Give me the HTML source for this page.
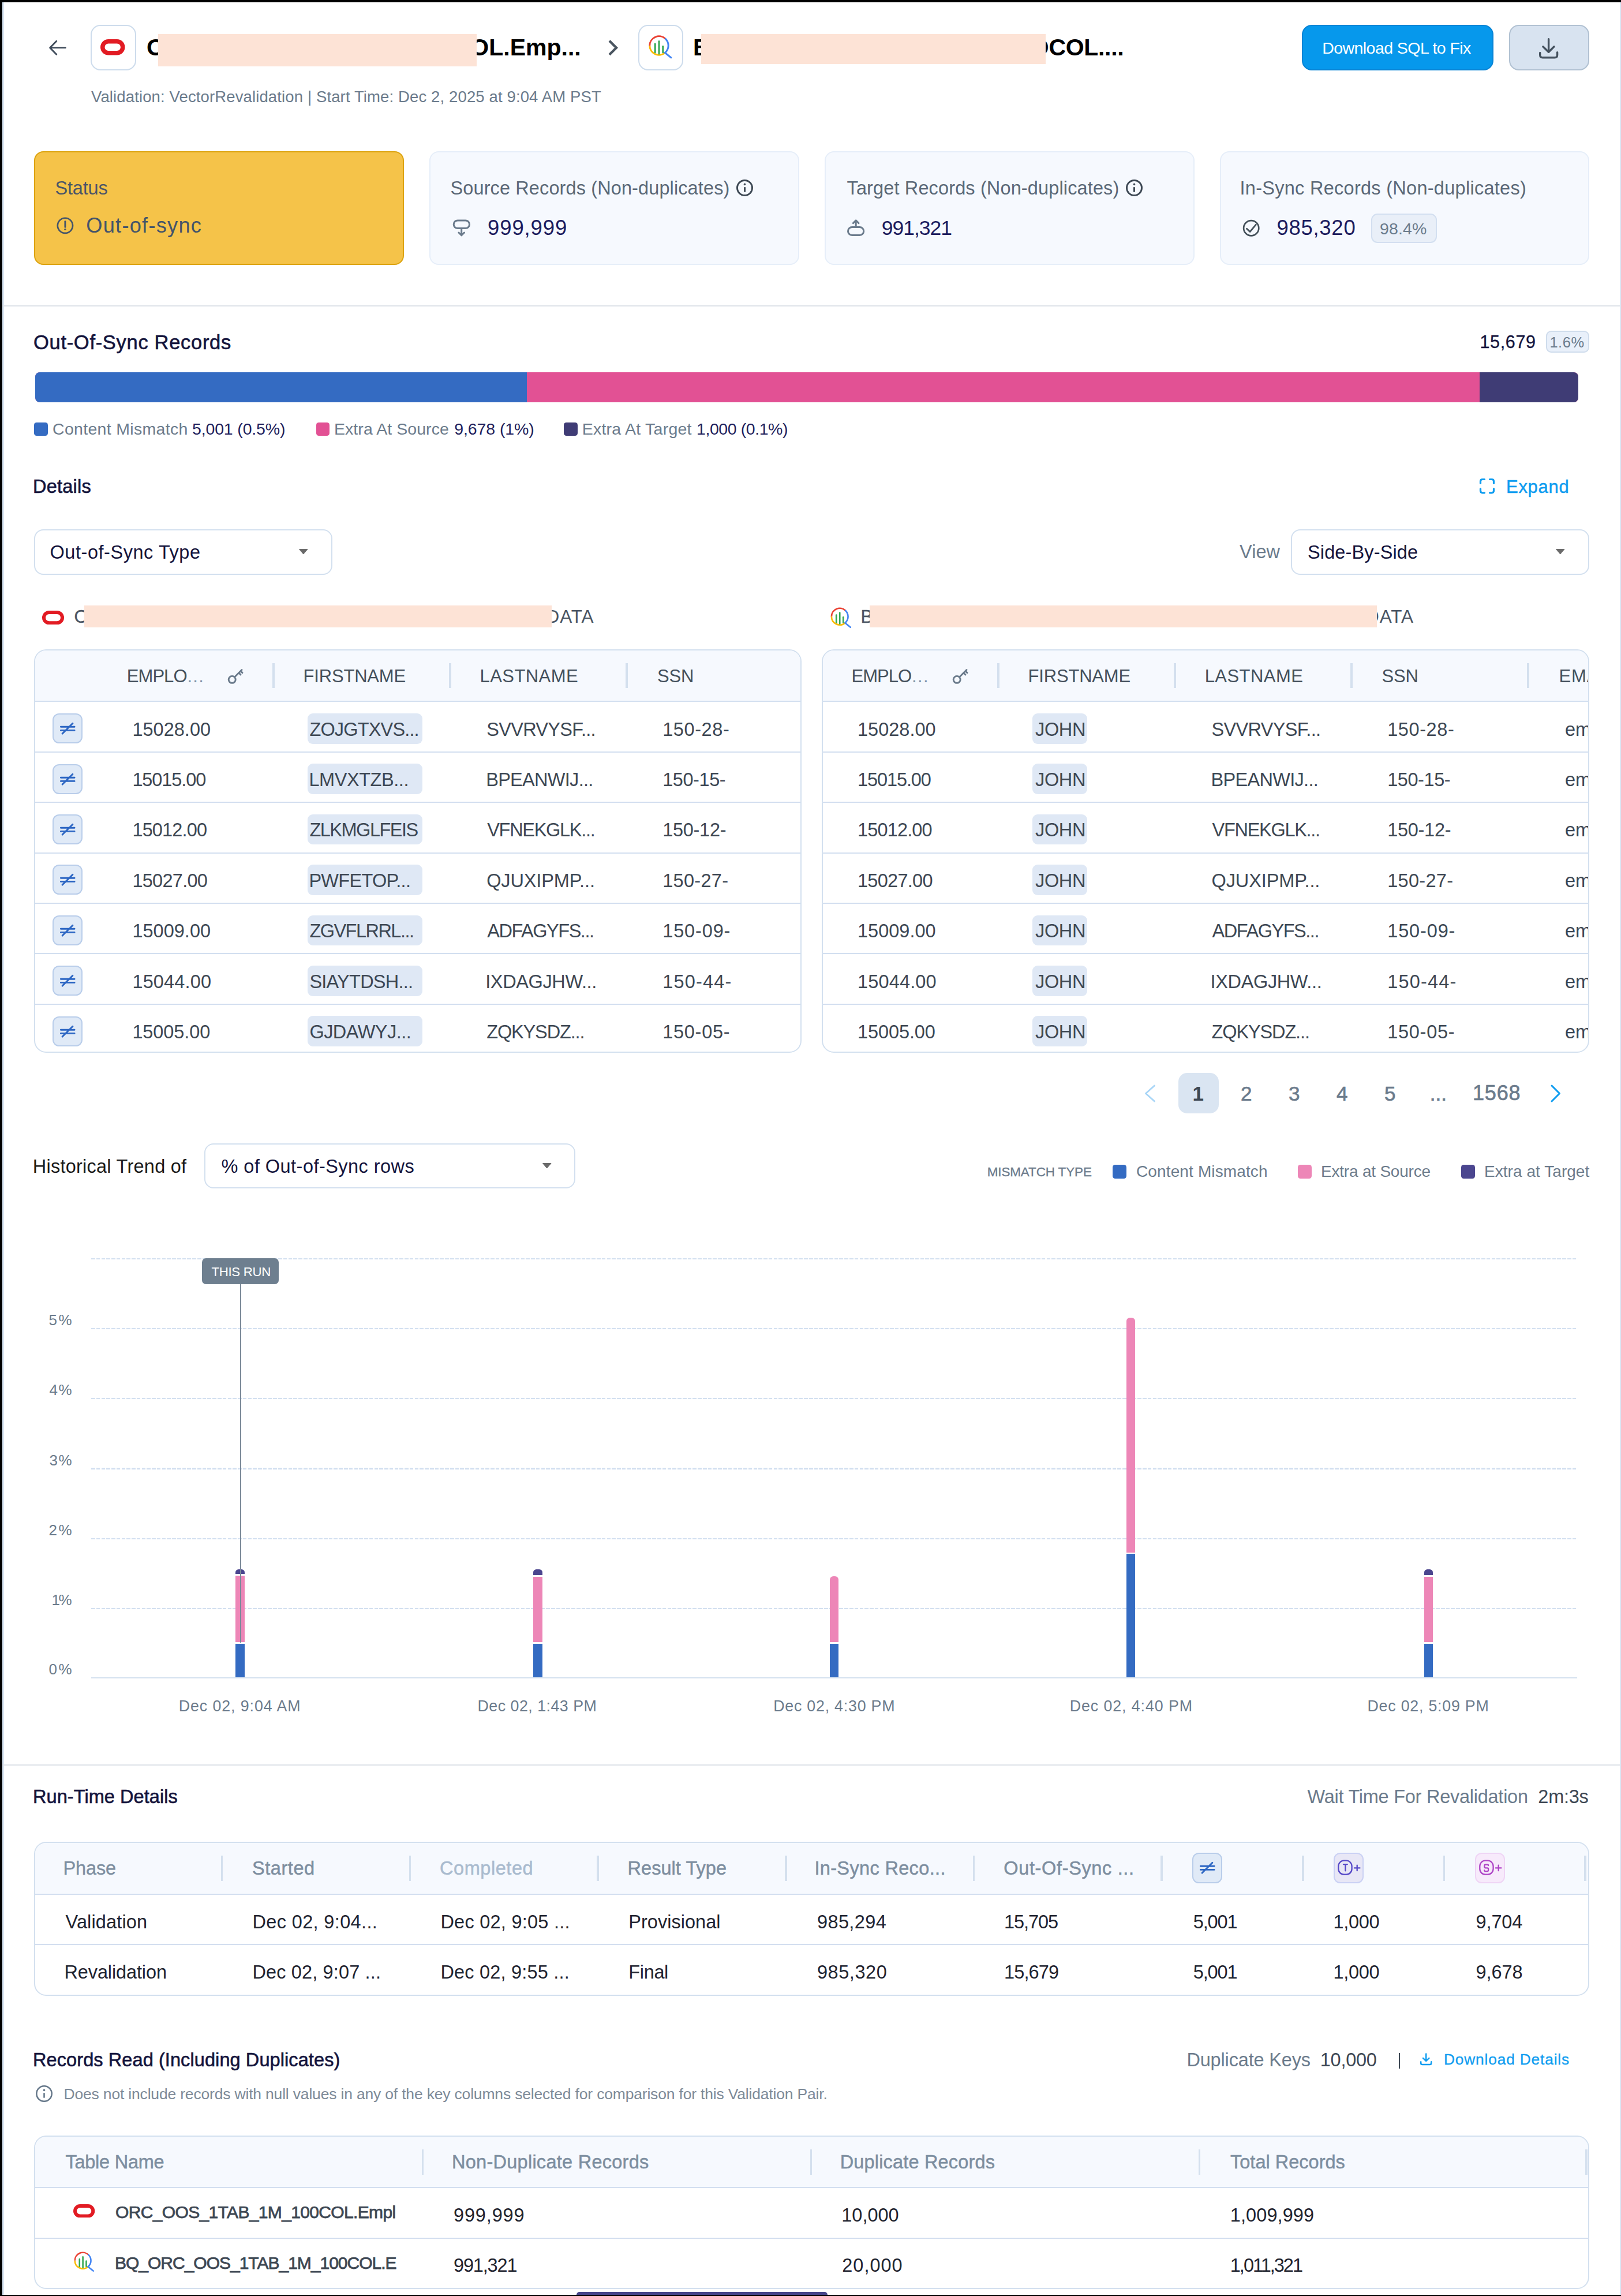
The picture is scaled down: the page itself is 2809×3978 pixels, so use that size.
<!DOCTYPE html>
<html lang="en"><head><meta charset="utf-8"><title>Validation Result</title><style>
*{margin:0;padding:0;box-sizing:border-box}
html,body{width:2809px;height:3978px;overflow:hidden;background:#000}
body{font-family:"Liberation Sans",sans-serif;position:relative}
.b{position:absolute;display:block}
.t{position:absolute;white-space:nowrap;display:block}
</style></head><body>
<div class="b" style="left:4.00px;top:4.00px;width:2803.00px;height:3972.00px;background:#ffffff;"></div>
<div class="b" style="left:4.00px;top:4.00px;width:2.50px;height:3972.00px;background:#dbe7f4;"></div>
<div class="b" style="left:2806.50px;top:4.00px;width:2.50px;height:3972.00px;background:#dbe7f4;"></div>
<svg class="b" style="left:80.00px;top:64.00px;" width="40" height="38" viewBox="0 0 40 38" fill="none"><path d="M33.4 18.7H7M17.8 7.3L6.6 18.7L17.8 30.2" stroke="#3f4b5a" stroke-width="2.8" stroke-linecap="round" stroke-linejoin="round"/></svg>
<div class="b" style="left:157.30px;top:43.20px;width:78.40px;height:78.60px;background:#fff;border:2px solid #cddcec;border-radius:17px;"></div>
<svg class="b" style="left:174.00px;top:68.00px;" width="42.5" height="27.5" viewBox="0 0 42.5 27.5" fill="none"><rect x="3.75" y="3.75" width="35.0" height="20.0" rx="10.0" stroke="#e21b23" stroke-width="7.5"/></svg>
<span class="t" id="t1" style="top:61.79px;font-size:41px;line-height:41px;color:#000;font-weight:700;left:254.00px;">O</span>
<span class="t" id="t2" style="top:61.79px;font-size:41px;line-height:41px;color:#000;font-weight:700;letter-spacing:0.006px;left:815.30px;">OL.Emp...</span>
<div class="b" style="left:274.00px;top:59.00px;width:552.00px;height:56.00px;background:#fde3d6;"></div>
<svg class="b" style="left:1050.00px;top:65.00px;" width="26" height="36" viewBox="0 0 26 36" fill="none"><path d="M6 5.8L18 17.8L6 29.8" stroke="#4a5560" stroke-width="4.3" /></svg>
<div class="b" style="left:1106.00px;top:43.20px;width:78.40px;height:78.60px;background:#fff;border:2px solid #cddcec;border-radius:17px;"></div>
<svg class="b" style="left:1117.80px;top:55.40px;" width="48.0" height="48.0" viewBox="0 0 48.0 48.0" fill="none"><path d="M7.80 24.00 A16.20 16.20 0 0 1 35.25 12.35" stroke="#ea4335" stroke-width="3.0"/><path d="M34.41 36.41 A16.20 16.20 0 0 1 7.80 24.00" stroke="#fbbc04" stroke-width="3.0"/><path d="M35.25 12.35 A16.20 16.20 0 0 1 34.41 36.41 L44.90 44.90" stroke="#4285f4" stroke-width="3.0" stroke-linecap="round"/><path d="M17.20 20.90V35.70" stroke="#34a853" stroke-width="3.0" stroke-linecap="round"/><path d="M24.00 16.60V38.10" stroke="#34a853" stroke-width="3.0" stroke-linecap="round"/><path d="M30.80 25.20V35.70" stroke="#34a853" stroke-width="3.0" stroke-linecap="round"/></svg>
<span class="t" id="t3" style="top:61.79px;font-size:41px;line-height:41px;color:#000;font-weight:700;left:1201.00px;">B</span>
<span class="t" id="t4" style="top:61.79px;font-size:41px;line-height:41px;color:#000;font-weight:700;letter-spacing:-0.301px;left:1785.80px;">OCOL....</span>
<div class="b" style="left:1215.00px;top:59.00px;width:597.00px;height:52.00px;background:#fde3d6;"></div>
<span class="t" id="t5" style="top:153.72px;font-size:27.5px;line-height:27.5px;color:#6b7b8c;letter-spacing:0.127px;left:158.00px;">Validation: VectorRevalidation | Start Time: Dec 2, 2025 at 9:04 AM PST</span>
<div class="b" style="left:2256.00px;top:43.00px;width:332.00px;height:79.00px;background:#0698ec;border:2px solid #0784d6;border-radius:17px;"></div>
<span class="t" id="t6" style="top:69.07px;font-size:28.5px;line-height:28.5px;color:#fff;letter-spacing:-0.558px;left:2291.20px;">Download SQL to Fix</span>
<div class="b" style="left:2614.50px;top:43.40px;width:139.50px;height:78.40px;background:#d8e3f0;border:2px solid #b1c1d2;border-radius:17px;"></div>
<svg class="b" style="left:2660.00px;top:60.00px;" width="48" height="48" viewBox="0 0 48 48" fill="none"><path d="M23.6 7.6V30M13.9 20.7L23.6 30.3L33 20.7M8.7 31.4V35.2Q8.7 39.7 13.2 39.7H34.1Q38.6 39.7 38.6 35.2V30.8" stroke="#44515e" stroke-width="3.4" stroke-linecap="round" stroke-linejoin="round"/></svg>
<div class="b" style="left:59.00px;top:262.00px;width:641.30px;height:197.00px;background:#f5c349;border:2px solid #dca30e;border-radius:16px;"></div>
<div class="b" style="left:744.20px;top:262.00px;width:640.60px;height:197.00px;background:#f6f9fe;border:2px solid #e6eef9;border-radius:16px;"></div>
<div class="b" style="left:1429.00px;top:262.00px;width:640.60px;height:197.00px;background:#f6f9fe;border:2px solid #e6eef9;border-radius:16px;"></div>
<div class="b" style="left:2113.80px;top:262.00px;width:640.60px;height:197.00px;background:#f6f9fe;border:2px solid #e6eef9;border-radius:16px;"></div>
<span class="t" id="t7" style="top:310.49px;font-size:32.5px;line-height:32.5px;color:#4a5568;letter-spacing:-0.177px;left:95.50px;">Status</span>
<svg class="b" style="left:96.00px;top:374.00px;" width="34" height="34" viewBox="0 0 34 34" fill="none"><circle cx="16.9" cy="16.85" r="13.1" stroke="#44546a" stroke-width="2.7"/><path d="M16.9 9.6V19.4" stroke="#44546a" stroke-width="2.9" stroke-linecap="round"/><circle cx="16.9" cy="23.4" r="1.7" fill="#44546a"/></svg>
<span class="t" id="t8" style="top:372.56px;font-size:36.2px;line-height:36.2px;color:#44546a;letter-spacing:1.258px;left:149.30px;">Out-of-sync</span>
<span class="t" id="t9" style="top:310.49px;font-size:32.5px;line-height:32.5px;color:#5a6877;letter-spacing:0.111px;left:780.50px;">Source Records (Non-duplicates)</span>
<span class="t" id="t10" style="top:310.49px;font-size:32.5px;line-height:32.5px;color:#5a6877;letter-spacing:0.133px;left:1467.50px;">Target Records (Non-duplicates)</span>
<span class="t" id="t11" style="top:310.49px;font-size:32.5px;line-height:32.5px;color:#5a6877;letter-spacing:0.278px;left:2148.50px;">In-Sync Records (Non-duplicates)</span>
<svg class="b" style="left:1274.10px;top:309.00px;" width="33.0" height="33.0" viewBox="0 0 33.0 33.0" fill="none"><circle cx="16.5" cy="16.5" r="13.0" stroke="#3d4854" stroke-width="3.0"/><circle cx="16.5" cy="10.4" r="1.8" fill="#3d4854"/><path d="M16.5 15.2V23.6" stroke="#3d4854" stroke-width="3.0" stroke-linecap="butt"/></svg>
<svg class="b" style="left:1949.00px;top:309.00px;" width="33.0" height="33.0" viewBox="0 0 33.0 33.0" fill="none"><circle cx="16.5" cy="16.5" r="13.0" stroke="#3d4854" stroke-width="3.0"/><circle cx="16.5" cy="10.4" r="1.8" fill="#3d4854"/><path d="M16.5 15.2V23.6" stroke="#3d4854" stroke-width="3.0" stroke-linecap="butt"/></svg>
<svg class="b" style="left:780.00px;top:376.00px;" width="40" height="38" viewBox="0 0 40 38" fill="none"><rect x="6.2" y="5.9" width="27.3" height="13.7" rx="6.85" stroke="#6b7b8c" stroke-width="3"/><path d="M19.7 20V31M14.9 27L19.7 31.8L24.5 27" stroke="#6b7b8c" stroke-width="3" stroke-linecap="round" stroke-linejoin="round"/></svg>
<span class="t" id="t12" style="top:377.10px;font-size:36.5px;line-height:36.5px;color:#1c1c5e;letter-spacing:0.894px;left:845.00px;">999,999</span>
<svg class="b" style="left:1463.00px;top:376.00px;" width="40" height="38" viewBox="0 0 40 38" fill="none"><rect x="6.5" y="17.5" width="27.2" height="13.9" rx="6.95" stroke="#6b7b8c" stroke-width="3"/><path d="M20.2 17V6.4M15.4 10.6L20.2 5.8L25 10.6" stroke="#6b7b8c" stroke-width="3" stroke-linecap="round" stroke-linejoin="round"/></svg>
<span class="t" id="t13" style="top:377.95px;font-size:35.5px;line-height:35.5px;color:#1c1c5e;letter-spacing:-1.013px;left:1527.80px;">991,321</span>
<svg class="b" style="left:2150.00px;top:377.00px;" width="36" height="36" viewBox="0 0 36 36" fill="none"><circle cx="18.2" cy="18.2" r="13.1" stroke="#44515a" stroke-width="2.7"/><path d="M10.5 19.2L16 24.6L26.4 12.2" stroke="#44515a" stroke-width="2.8" stroke-linecap="round" stroke-linejoin="round"/></svg>
<span class="t" id="t14" style="top:377.10px;font-size:36.5px;line-height:36.5px;color:#1c1c5e;letter-spacing:0.727px;left:2212.40px;">985,320</span>
<div class="b" style="left:2375.50px;top:370.00px;width:114.00px;height:51.00px;background:#e9eff8;border:2px solid #d3dff0;border-radius:11px;"></div>
<span class="t" id="t15" style="top:382.37px;font-size:28.5px;line-height:28.5px;color:#6b7b8c;letter-spacing:0.133px;left:2391.00px;">98.4%</span>
<div class="b" style="left:4.00px;top:528.50px;width:2803.00px;height:2.00px;background:#dee3e9;"></div>
<span class="t" id="t16" style="top:575.80px;font-size:34.5px;line-height:34.5px;color:#14143c;-webkit-text-stroke:0.6px #14143c;letter-spacing:0.694px;left:58.00px;">Out-Of-Sync Records</span>
<span class="t" id="t17" style="top:577.18px;font-size:30.5px;line-height:30.5px;color:#14143c;-webkit-text-stroke:0.3px #14143c;letter-spacing:0.635px;left:2564.50px;">15,679</span>
<div class="b" style="left:2678.80px;top:572.80px;width:75.00px;height:38.60px;background:#e9f0fa;border:2px solid #cfdcec;border-radius:9px;"></div>
<span class="t" id="t18" style="top:580.71px;font-size:25.5px;line-height:25.5px;color:#6b7b8c;letter-spacing:0.517px;left:2685.40px;">1.6%</span>
<div class="b" style="left:61.00px;top:645.00px;width:2674.00px;height:52.00px;background:#e25194;border-radius:8px;overflow:hidden"><div class="b" style="left:0;top:0;width:852.3px;height:52px;background:#346bc2"></div><div class="b" style="left:2503px;top:0;width:171px;height:52px;background:#3f3c75"></div></div>
<div class="b" style="left:59.00px;top:731.50px;width:23.50px;height:23.50px;background:#346bc2;border-radius:4.5px;"></div>
<span class="t" id="t19" style="top:729.37px;font-size:28.5px;line-height:28.5px;color:#6b7b8c;letter-spacing:0.312px;left:91.00px;">Content Mismatch</span>
<span class="t" id="t20" style="top:729.37px;font-size:28.5px;line-height:28.5px;color:#1f1f5c;letter-spacing:-0.153px;left:333.00px;">5,001 (0.5%)</span>
<div class="b" style="left:547.50px;top:731.50px;width:23.50px;height:23.50px;background:#e25194;border-radius:4.5px;"></div>
<span class="t" id="t21" style="top:729.37px;font-size:28.5px;line-height:28.5px;color:#6b7b8c;letter-spacing:0.055px;left:579.00px;">Extra At Source</span>
<span class="t" id="t22" style="top:729.37px;font-size:28.5px;line-height:28.5px;color:#1f1f5c;letter-spacing:-0.102px;left:787.30px;">9,678 (1%)</span>
<div class="b" style="left:977.00px;top:731.50px;width:23.50px;height:23.50px;background:#3f3c75;border-radius:4.5px;"></div>
<span class="t" id="t23" style="top:729.37px;font-size:28.5px;line-height:28.5px;color:#6b7b8c;letter-spacing:0.245px;left:1008.70px;">Extra At Target</span>
<span class="t" id="t24" style="top:729.37px;font-size:28.5px;line-height:28.5px;color:#1f1f5c;letter-spacing:-0.426px;left:1207.00px;">1,000 (0.1%)</span>
<span class="t" id="t25" style="top:827.49px;font-size:32.5px;line-height:32.5px;color:#14143c;-webkit-text-stroke:0.6px #14143c;letter-spacing:0.235px;left:57.00px;">Details</span>
<svg class="b" style="left:2561.00px;top:826.00px;" width="32" height="34" viewBox="0 0 32 34" fill="none"><path d="M4.5 11.5V8Q4.5 4.5 8 4.5H11.5M20.5 4.5H24Q27.5 4.5 27.5 8V11.5M27.5 20.8V24.3Q27.5 27.8 24 27.8H20.5M11.5 27.8H8Q4.5 27.8 4.5 24.3V20.8" stroke="#0d9cf0" stroke-width="3.2" stroke-linecap="round"/></svg>
<span class="t" id="t26" style="top:828.36px;font-size:31px;line-height:31px;color:#0d9cf0;-webkit-text-stroke:0.45px #0d9cf0;letter-spacing:0.700px;left:2610.00px;">Expand</span>
<div class="b" style="left:59.00px;top:916.90px;width:517.00px;height:78.80px;background:#fff;border:2px solid #d3e0ef;border-radius:16px;"></div>
<span class="t" id="t27" style="top:940.99px;font-size:32.5px;line-height:32.5px;color:#14143c;letter-spacing:0.547px;left:86.50px;">Out-of-Sync Type</span>
<svg class="b" style="left:518.30px;top:950.30px;" width="16" height="12" viewBox="0 0 16 12" fill="none"><path d="M0.5 1.5H15L7.75 10Z" fill="#6a6a6a" stroke="#6a6a6a" stroke-width="1" stroke-linejoin="round"/></svg>
<span class="t" id="t28" style="top:940.49px;font-size:32.5px;line-height:32.5px;color:#6b7b8c;letter-spacing:0.072px;left:2148.00px;">View</span>
<div class="b" style="left:2237.10px;top:916.90px;width:516.90px;height:78.80px;background:#fff;border:2px solid #d3e0ef;border-radius:16px;"></div>
<span class="t" id="t29" style="top:940.99px;font-size:32.5px;line-height:32.5px;color:#14143c;letter-spacing:0.128px;left:2266.00px;">Side-By-Side</span>
<svg class="b" style="left:2696.30px;top:950.30px;" width="16" height="12" viewBox="0 0 16 12" fill="none"><path d="M0.5 1.5H15L7.75 10Z" fill="#6a6a6a" stroke="#6a6a6a" stroke-width="1" stroke-linejoin="round"/></svg>
<svg class="b" style="left:72.50px;top:1058.00px;" width="38" height="24.3" viewBox="0 0 38 24.3" fill="none"><rect x="3.0" y="3.0" width="32" height="18.3" rx="9.15" stroke="#e21b23" stroke-width="6"/></svg>
<span class="t" id="t30" style="top:1053.34px;font-size:31.5px;line-height:31.5px;color:#4a5563;-webkit-text-stroke:0.3px #4a5563;left:128.50px;">O</span>
<span class="t" id="t31" style="top:1053.34px;font-size:31.5px;line-height:31.5px;color:#4a5563;letter-spacing:0.892px;left:946.50px;">DATA</span>
<div class="b" style="left:146.00px;top:1049.00px;width:810.00px;height:38.00px;background:#fde3d6;"></div>
<svg class="b" style="left:1433.56px;top:1046.76px;" width="42.48" height="42.48" viewBox="0 0 42.48 42.48" fill="none"><path d="M6.90 21.24 A14.34 14.34 0 0 1 31.20 10.93" stroke="#ea4335" stroke-width="2.6550000000000002"/><path d="M30.46 32.22 A14.34 14.34 0 0 1 6.90 21.24" stroke="#fbbc04" stroke-width="2.6550000000000002"/><path d="M31.20 10.93 A14.34 14.34 0 0 1 30.46 32.22 L39.74 39.74" stroke="#4285f4" stroke-width="2.6550000000000002" stroke-linecap="round"/><path d="M15.22 18.50V31.59" stroke="#34a853" stroke-width="2.6550000000000002" stroke-linecap="round"/><path d="M21.24 14.69V33.72" stroke="#34a853" stroke-width="2.6550000000000002" stroke-linecap="round"/><path d="M27.26 22.30V31.59" stroke="#34a853" stroke-width="2.6550000000000002" stroke-linecap="round"/></svg>
<span class="t" id="t32" style="top:1053.34px;font-size:31.5px;line-height:31.5px;color:#4a5563;-webkit-text-stroke:0.3px #4a5563;left:1491.60px;">B</span>
<span class="t" id="t33" style="top:1053.34px;font-size:31.5px;line-height:31.5px;color:#4a5563;letter-spacing:0.892px;left:2367.00px;">DATA</span>
<div class="b" style="left:1506.50px;top:1049.00px;width:879.30px;height:38.00px;background:#fde3d6;"></div>
<div class="b" style="left:59.00px;top:1124.90px;width:1330.00px;height:699.10px;background:#fff;border:2px solid #d3e0ef;border-radius:21px;overflow:hidden"><div class="b" style="left:0;top:0;width:1330px;height:89.4px;background:#f6f9fe"></div></div>
<div class="b" style="left:61.00px;top:1214.30px;width:1326.00px;height:2.00px;background:#d3dff0;"></div>
<div class="b" style="left:61.00px;top:1301.70px;width:1326.00px;height:2.00px;background:#d3dff0;"></div>
<div class="b" style="left:61.00px;top:1389.10px;width:1326.00px;height:2.00px;background:#d3dff0;"></div>
<div class="b" style="left:61.00px;top:1476.50px;width:1326.00px;height:2.00px;background:#d3dff0;"></div>
<div class="b" style="left:61.00px;top:1563.90px;width:1326.00px;height:2.00px;background:#d3dff0;"></div>
<div class="b" style="left:61.00px;top:1651.30px;width:1326.00px;height:2.00px;background:#d3dff0;"></div>
<div class="b" style="left:61.00px;top:1738.70px;width:1326.00px;height:2.00px;background:#d3dff0;"></div>
<span class="t" id="t34" style="top:1156.36px;font-size:31px;line-height:31px;color:#44505c;letter-spacing:-0.954px;left:219.80px;">EMPLO</span>
<span class="t" id="t35" style="top:1156.36px;font-size:31px;line-height:31px;color:#8094a8;letter-spacing:1.287px;left:324.40px;">...</span>
<svg class="b" style="left:393.00px;top:1158.00px;" width="32" height="30" viewBox="0 0 32 30" fill="none"><circle cx="9.2" cy="19.4" r="6" stroke="#6b7b8c" stroke-width="2.9"/><path d="M13.6 15L26 2.6M20.8 7.8L24 11M24 4.6L27 7.6" stroke="#6b7b8c" stroke-width="2.9" stroke-linecap="round"/></svg>
<span class="t" id="t36" style="top:1156.36px;font-size:31px;line-height:31px;color:#44505c;letter-spacing:-0.180px;left:525.50px;">FIRSTNAME</span>
<span class="t" id="t37" style="top:1156.36px;font-size:31px;line-height:31px;color:#44505c;letter-spacing:0.440px;left:831.50px;">LASTNAME</span>
<span class="t" id="t38" style="top:1156.36px;font-size:31px;line-height:31px;color:#44505c;letter-spacing:-0.177px;left:1139.00px;">SSN</span>
<div class="b" style="left:472.10px;top:1148.60px;width:3.80px;height:43.50px;background:#d4e0ee;"></div>
<div class="b" style="left:778.10px;top:1148.60px;width:3.80px;height:43.50px;background:#d4e0ee;"></div>
<div class="b" style="left:1084.10px;top:1148.60px;width:3.80px;height:43.50px;background:#d4e0ee;"></div>
<div class="b" style="left:90.50px;top:1236.10px;width:52.20px;height:52.20px;background:#e0eaf7;border:2px solid #b9cdea;border-radius:11.5px;"></div>
<svg class="b" style="left:90.50px;top:1236.10px;" width="52.2" height="52.2" viewBox="0 0 52.2 52.2" fill="none"><path d="M14.4 23.2H38.1M14.4 29.4H38.1M17.1 35.1L34.9 17.3" stroke="#2c66c3" stroke-width="2.9" stroke-linecap="round"/></svg>
<span class="t" id="t39" style="top:1247.59px;font-size:32.5px;line-height:32.5px;color:#3d4753;letter-spacing:0.017px;left:229.40px;">15028.00</span>
<div class="b" style="left:532.50px;top:1236.00px;width:199.00px;height:52.50px;background:#dfe8f5;border-radius:9px;"></div>
<span class="t" id="t40" style="top:1247.59px;font-size:32.5px;line-height:32.5px;color:#3d4753;letter-spacing:-0.840px;left:536.40px;">ZOJGTXVS...</span>
<span class="t" id="t41" style="top:1247.59px;font-size:32.5px;line-height:32.5px;color:#3d4753;letter-spacing:-0.686px;left:843.20px;">SVVRVYSF...</span>
<span class="t" id="t42" style="top:1247.59px;font-size:32.5px;line-height:32.5px;color:#3d4753;letter-spacing:0.584px;left:1148.20px;">150-28-</span>
<div class="b" style="left:90.50px;top:1323.50px;width:52.20px;height:52.20px;background:#e0eaf7;border:2px solid #b9cdea;border-radius:11.5px;"></div>
<svg class="b" style="left:90.50px;top:1323.50px;" width="52.2" height="52.2" viewBox="0 0 52.2 52.2" fill="none"><path d="M14.4 23.2H38.1M14.4 29.4H38.1M17.1 35.1L34.9 17.3" stroke="#2c66c3" stroke-width="2.9" stroke-linecap="round"/></svg>
<span class="t" id="t43" style="top:1334.99px;font-size:32.5px;line-height:32.5px;color:#3d4753;letter-spacing:-1.097px;left:229.40px;">15015.00</span>
<div class="b" style="left:532.50px;top:1323.40px;width:199.00px;height:52.50px;background:#dfe8f5;border-radius:9px;"></div>
<span class="t" id="t44" style="top:1334.99px;font-size:32.5px;line-height:32.5px;color:#3d4753;letter-spacing:-0.438px;left:535.40px;">LMVXTZB...</span>
<span class="t" id="t45" style="top:1334.99px;font-size:32.5px;line-height:32.5px;color:#3d4753;letter-spacing:-0.709px;left:842.20px;">BPEANWIJ...</span>
<span class="t" id="t46" style="top:1334.99px;font-size:32.5px;line-height:32.5px;color:#3d4753;letter-spacing:-0.433px;left:1148.20px;">150-15-</span>
<div class="b" style="left:90.50px;top:1410.90px;width:52.20px;height:52.20px;background:#e0eaf7;border:2px solid #b9cdea;border-radius:11.5px;"></div>
<svg class="b" style="left:90.50px;top:1410.90px;" width="52.2" height="52.2" viewBox="0 0 52.2 52.2" fill="none"><path d="M14.4 23.2H38.1M14.4 29.4H38.1M17.1 35.1L34.9 17.3" stroke="#2c66c3" stroke-width="2.9" stroke-linecap="round"/></svg>
<span class="t" id="t47" style="top:1422.39px;font-size:32.5px;line-height:32.5px;color:#3d4753;letter-spacing:-0.840px;left:229.40px;">15012.00</span>
<div class="b" style="left:532.50px;top:1410.80px;width:199.00px;height:52.50px;background:#dfe8f5;border-radius:9px;"></div>
<span class="t" id="t48" style="top:1422.39px;font-size:32.5px;line-height:32.5px;color:#3d4753;letter-spacing:-1.488px;left:536.40px;">ZLKMGLFEIS</span>
<span class="t" id="t49" style="top:1422.39px;font-size:32.5px;line-height:32.5px;color:#3d4753;letter-spacing:-1.295px;left:844.20px;">VFNEKGLK...</span>
<span class="t" id="t50" style="top:1422.39px;font-size:32.5px;line-height:32.5px;color:#3d4753;letter-spacing:-0.283px;left:1148.20px;">150-12-</span>
<div class="b" style="left:90.50px;top:1498.30px;width:52.20px;height:52.20px;background:#e0eaf7;border:2px solid #b9cdea;border-radius:11.5px;"></div>
<svg class="b" style="left:90.50px;top:1498.30px;" width="52.2" height="52.2" viewBox="0 0 52.2 52.2" fill="none"><path d="M14.4 23.2H38.1M14.4 29.4H38.1M17.1 35.1L34.9 17.3" stroke="#2c66c3" stroke-width="2.9" stroke-linecap="round"/></svg>
<span class="t" id="t51" style="top:1509.79px;font-size:32.5px;line-height:32.5px;color:#3d4753;letter-spacing:-0.726px;left:229.40px;">15027.00</span>
<div class="b" style="left:532.50px;top:1498.20px;width:199.00px;height:52.50px;background:#dfe8f5;border-radius:9px;"></div>
<span class="t" id="t52" style="top:1509.79px;font-size:32.5px;line-height:32.5px;color:#3d4753;letter-spacing:-0.719px;left:535.40px;">PWFETOP...</span>
<span class="t" id="t53" style="top:1509.79px;font-size:32.5px;line-height:32.5px;color:#3d4753;letter-spacing:-0.130px;left:843.20px;">QJUXIPMP...</span>
<span class="t" id="t54" style="top:1509.79px;font-size:32.5px;line-height:32.5px;color:#3d4753;letter-spacing:0.300px;left:1148.20px;">150-27-</span>
<div class="b" style="left:90.50px;top:1585.70px;width:52.20px;height:52.20px;background:#e0eaf7;border:2px solid #b9cdea;border-radius:11.5px;"></div>
<svg class="b" style="left:90.50px;top:1585.70px;" width="52.2" height="52.2" viewBox="0 0 52.2 52.2" fill="none"><path d="M14.4 23.2H38.1M14.4 29.4H38.1M17.1 35.1L34.9 17.3" stroke="#2c66c3" stroke-width="2.9" stroke-linecap="round"/></svg>
<span class="t" id="t55" style="top:1597.19px;font-size:32.5px;line-height:32.5px;color:#3d4753;letter-spacing:0.017px;left:229.40px;">15009.00</span>
<div class="b" style="left:532.50px;top:1585.60px;width:199.00px;height:52.50px;background:#dfe8f5;border-radius:9px;"></div>
<span class="t" id="t56" style="top:1597.19px;font-size:32.5px;line-height:32.5px;color:#3d4753;letter-spacing:-1.531px;left:536.40px;">ZGVFLRRL...</span>
<span class="t" id="t57" style="top:1597.19px;font-size:32.5px;line-height:32.5px;color:#3d4753;letter-spacing:-1.463px;left:844.20px;">ADFAGYFS...</span>
<span class="t" id="t58" style="top:1597.19px;font-size:32.5px;line-height:32.5px;color:#3d4753;letter-spacing:0.867px;left:1148.20px;">150-09-</span>
<div class="b" style="left:90.50px;top:1673.10px;width:52.20px;height:52.20px;background:#e0eaf7;border:2px solid #b9cdea;border-radius:11.5px;"></div>
<svg class="b" style="left:90.50px;top:1673.10px;" width="52.2" height="52.2" viewBox="0 0 52.2 52.2" fill="none"><path d="M14.4 23.2H38.1M14.4 29.4H38.1M17.1 35.1L34.9 17.3" stroke="#2c66c3" stroke-width="2.9" stroke-linecap="round"/></svg>
<span class="t" id="t59" style="top:1684.59px;font-size:32.5px;line-height:32.5px;color:#3d4753;letter-spacing:0.160px;left:229.40px;">15044.00</span>
<div class="b" style="left:532.50px;top:1673.00px;width:199.00px;height:52.50px;background:#dfe8f5;border-radius:9px;"></div>
<span class="t" id="t60" style="top:1684.59px;font-size:32.5px;line-height:32.5px;color:#3d4753;letter-spacing:-0.748px;left:536.40px;">SIAYTDSH...</span>
<span class="t" id="t61" style="top:1684.59px;font-size:32.5px;line-height:32.5px;color:#3d4753;letter-spacing:-0.370px;left:841.20px;">IXDAGJHW...</span>
<span class="t" id="t62" style="top:1684.59px;font-size:32.5px;line-height:32.5px;color:#3d4753;letter-spacing:1.167px;left:1148.20px;">150-44-</span>
<div class="b" style="left:90.50px;top:1760.50px;width:52.20px;height:52.20px;background:#e0eaf7;border:2px solid #b9cdea;border-radius:11.5px;"></div>
<svg class="b" style="left:90.50px;top:1760.50px;" width="52.2" height="52.2" viewBox="0 0 52.2 52.2" fill="none"><path d="M14.4 23.2H38.1M14.4 29.4H38.1M17.1 35.1L34.9 17.3" stroke="#2c66c3" stroke-width="2.9" stroke-linecap="round"/></svg>
<span class="t" id="t63" style="top:1771.99px;font-size:32.5px;line-height:32.5px;color:#3d4753;letter-spacing:-0.097px;left:229.40px;">15005.00</span>
<div class="b" style="left:532.50px;top:1760.40px;width:199.00px;height:52.50px;background:#dfe8f5;border-radius:9px;"></div>
<span class="t" id="t64" style="top:1771.99px;font-size:32.5px;line-height:32.5px;color:#3d4753;letter-spacing:-0.537px;left:536.40px;">GJDAWYJ...</span>
<span class="t" id="t65" style="top:1771.99px;font-size:32.5px;line-height:32.5px;color:#3d4753;letter-spacing:-1.138px;left:843.20px;">ZQKYSDZ...</span>
<span class="t" id="t66" style="top:1771.99px;font-size:32.5px;line-height:32.5px;color:#3d4753;letter-spacing:0.734px;left:1148.20px;">150-05-</span>
<div class="b" style="left:1424.00px;top:1124.90px;width:1330.00px;height:699.10px;background:#fff;border:2px solid #d3e0ef;border-radius:21px;overflow:hidden"><div class="b" style="left:0;top:0;width:1330px;height:89.4px;background:#f6f9fe"></div></div>
<div class="b" style="left:1426.00px;top:1214.30px;width:1326.00px;height:2.00px;background:#d3dff0;"></div>
<div class="b" style="left:1426.00px;top:1301.70px;width:1326.00px;height:2.00px;background:#d3dff0;"></div>
<div class="b" style="left:1426.00px;top:1389.10px;width:1326.00px;height:2.00px;background:#d3dff0;"></div>
<div class="b" style="left:1426.00px;top:1476.50px;width:1326.00px;height:2.00px;background:#d3dff0;"></div>
<div class="b" style="left:1426.00px;top:1563.90px;width:1326.00px;height:2.00px;background:#d3dff0;"></div>
<div class="b" style="left:1426.00px;top:1651.30px;width:1326.00px;height:2.00px;background:#d3dff0;"></div>
<div class="b" style="left:1426.00px;top:1738.70px;width:1326.00px;height:2.00px;background:#d3dff0;"></div>
<span class="t" id="t67" style="top:1156.36px;font-size:31px;line-height:31px;color:#44505c;letter-spacing:-0.954px;left:1475.50px;">EMPLO</span>
<span class="t" id="t68" style="top:1156.36px;font-size:31px;line-height:31px;color:#8094a8;letter-spacing:1.287px;left:1580.10px;">...</span>
<svg class="b" style="left:1649.00px;top:1158.00px;" width="32" height="30" viewBox="0 0 32 30" fill="none"><circle cx="9.2" cy="19.4" r="6" stroke="#6b7b8c" stroke-width="2.9"/><path d="M13.6 15L26 2.6M20.8 7.8L24 11M24 4.6L27 7.6" stroke="#6b7b8c" stroke-width="2.9" stroke-linecap="round"/></svg>
<span class="t" id="t69" style="top:1156.36px;font-size:31px;line-height:31px;color:#44505c;letter-spacing:-0.180px;left:1781.50px;">FIRSTNAME</span>
<span class="t" id="t70" style="top:1156.36px;font-size:31px;line-height:31px;color:#44505c;letter-spacing:0.440px;left:2087.70px;">LASTNAME</span>
<span class="t" id="t71" style="top:1156.36px;font-size:31px;line-height:31px;color:#44505c;letter-spacing:-0.177px;left:2394.40px;">SSN</span>
<div class="b" style="left:1728.10px;top:1148.60px;width:3.80px;height:43.50px;background:#d4e0ee;"></div>
<div class="b" style="left:2034.10px;top:1148.60px;width:3.80px;height:43.50px;background:#d4e0ee;"></div>
<div class="b" style="left:2340.10px;top:1148.60px;width:3.80px;height:43.50px;background:#d4e0ee;"></div>
<div class="b" style="left:2646.10px;top:1148.60px;width:3.80px;height:43.50px;background:#d4e0ee;"></div>
<div class="b" style="left:2690.00px;top:1126.00px;width:62.00px;height:696.00px;overflow:hidden"><span class="t" style="left:11.6px;top:30.36px;font-size:31px;line-height:31px;color:#44505c;letter-spacing:0.8px">EMAIL</span><span class="t" style="left:22px;top:121.59px;font-size:32.5px;line-height:32.5px;color:#3d4753">email</span><span class="t" style="left:22px;top:208.99px;font-size:32.5px;line-height:32.5px;color:#3d4753">email</span><span class="t" style="left:22px;top:296.39px;font-size:32.5px;line-height:32.5px;color:#3d4753">email</span><span class="t" style="left:22px;top:383.79px;font-size:32.5px;line-height:32.5px;color:#3d4753">email</span><span class="t" style="left:22px;top:471.19px;font-size:32.5px;line-height:32.5px;color:#3d4753">email</span><span class="t" style="left:22px;top:558.59px;font-size:32.5px;line-height:32.5px;color:#3d4753">email</span><span class="t" style="left:22px;top:645.99px;font-size:32.5px;line-height:32.5px;color:#3d4753">email</span></div>
<span class="t" id="t72" style="top:1247.59px;font-size:32.5px;line-height:32.5px;color:#3d4753;letter-spacing:0.017px;left:1486.00px;">15028.00</span>
<div class="b" style="left:1788.50px;top:1236.00px;width:95.50px;height:52.50px;background:#dfe8f5;border-radius:9px;"></div>
<span class="t" id="t73" style="top:1247.59px;font-size:32.5px;line-height:32.5px;color:#3d4753;letter-spacing:-0.333px;left:1794.00px;">JOHN</span>
<span class="t" id="t74" style="top:1247.59px;font-size:32.5px;line-height:32.5px;color:#3d4753;letter-spacing:-0.686px;left:2099.60px;">SVVRVYSF...</span>
<span class="t" id="t75" style="top:1247.59px;font-size:32.5px;line-height:32.5px;color:#3d4753;letter-spacing:0.584px;left:2404.20px;">150-28-</span>
<span class="t" id="t76" style="top:1334.99px;font-size:32.5px;line-height:32.5px;color:#3d4753;letter-spacing:-1.097px;left:1486.00px;">15015.00</span>
<div class="b" style="left:1788.50px;top:1323.40px;width:95.50px;height:52.50px;background:#dfe8f5;border-radius:9px;"></div>
<span class="t" id="t77" style="top:1334.99px;font-size:32.5px;line-height:32.5px;color:#3d4753;letter-spacing:-0.333px;left:1794.00px;">JOHN</span>
<span class="t" id="t78" style="top:1334.99px;font-size:32.5px;line-height:32.5px;color:#3d4753;letter-spacing:-0.709px;left:2098.60px;">BPEANWIJ...</span>
<span class="t" id="t79" style="top:1334.99px;font-size:32.5px;line-height:32.5px;color:#3d4753;letter-spacing:-0.433px;left:2404.20px;">150-15-</span>
<span class="t" id="t80" style="top:1422.39px;font-size:32.5px;line-height:32.5px;color:#3d4753;letter-spacing:-0.840px;left:1486.00px;">15012.00</span>
<div class="b" style="left:1788.50px;top:1410.80px;width:95.50px;height:52.50px;background:#dfe8f5;border-radius:9px;"></div>
<span class="t" id="t81" style="top:1422.39px;font-size:32.5px;line-height:32.5px;color:#3d4753;letter-spacing:-0.333px;left:1794.00px;">JOHN</span>
<span class="t" id="t82" style="top:1422.39px;font-size:32.5px;line-height:32.5px;color:#3d4753;letter-spacing:-1.295px;left:2100.60px;">VFNEKGLK...</span>
<span class="t" id="t83" style="top:1422.39px;font-size:32.5px;line-height:32.5px;color:#3d4753;letter-spacing:-0.283px;left:2404.20px;">150-12-</span>
<span class="t" id="t84" style="top:1509.79px;font-size:32.5px;line-height:32.5px;color:#3d4753;letter-spacing:-0.726px;left:1486.00px;">15027.00</span>
<div class="b" style="left:1788.50px;top:1498.20px;width:95.50px;height:52.50px;background:#dfe8f5;border-radius:9px;"></div>
<span class="t" id="t85" style="top:1509.79px;font-size:32.5px;line-height:32.5px;color:#3d4753;letter-spacing:-0.333px;left:1794.00px;">JOHN</span>
<span class="t" id="t86" style="top:1509.79px;font-size:32.5px;line-height:32.5px;color:#3d4753;letter-spacing:-0.130px;left:2099.60px;">QJUXIPMP...</span>
<span class="t" id="t87" style="top:1509.79px;font-size:32.5px;line-height:32.5px;color:#3d4753;letter-spacing:0.300px;left:2404.20px;">150-27-</span>
<span class="t" id="t88" style="top:1597.19px;font-size:32.5px;line-height:32.5px;color:#3d4753;letter-spacing:0.017px;left:1486.00px;">15009.00</span>
<div class="b" style="left:1788.50px;top:1585.60px;width:95.50px;height:52.50px;background:#dfe8f5;border-radius:9px;"></div>
<span class="t" id="t89" style="top:1597.19px;font-size:32.5px;line-height:32.5px;color:#3d4753;letter-spacing:-0.333px;left:1794.00px;">JOHN</span>
<span class="t" id="t90" style="top:1597.19px;font-size:32.5px;line-height:32.5px;color:#3d4753;letter-spacing:-1.463px;left:2100.60px;">ADFAGYFS...</span>
<span class="t" id="t91" style="top:1597.19px;font-size:32.5px;line-height:32.5px;color:#3d4753;letter-spacing:0.867px;left:2404.20px;">150-09-</span>
<span class="t" id="t92" style="top:1684.59px;font-size:32.5px;line-height:32.5px;color:#3d4753;letter-spacing:0.160px;left:1486.00px;">15044.00</span>
<div class="b" style="left:1788.50px;top:1673.00px;width:95.50px;height:52.50px;background:#dfe8f5;border-radius:9px;"></div>
<span class="t" id="t93" style="top:1684.59px;font-size:32.5px;line-height:32.5px;color:#3d4753;letter-spacing:-0.333px;left:1794.00px;">JOHN</span>
<span class="t" id="t94" style="top:1684.59px;font-size:32.5px;line-height:32.5px;color:#3d4753;letter-spacing:-0.370px;left:2097.60px;">IXDAGJHW...</span>
<span class="t" id="t95" style="top:1684.59px;font-size:32.5px;line-height:32.5px;color:#3d4753;letter-spacing:1.167px;left:2404.20px;">150-44-</span>
<span class="t" id="t96" style="top:1771.99px;font-size:32.5px;line-height:32.5px;color:#3d4753;letter-spacing:-0.097px;left:1486.00px;">15005.00</span>
<div class="b" style="left:1788.50px;top:1760.40px;width:95.50px;height:52.50px;background:#dfe8f5;border-radius:9px;"></div>
<span class="t" id="t97" style="top:1771.99px;font-size:32.5px;line-height:32.5px;color:#3d4753;letter-spacing:-0.333px;left:1794.00px;">JOHN</span>
<span class="t" id="t98" style="top:1771.99px;font-size:32.5px;line-height:32.5px;color:#3d4753;letter-spacing:-1.138px;left:2099.60px;">ZQKYSDZ...</span>
<span class="t" id="t99" style="top:1771.99px;font-size:32.5px;line-height:32.5px;color:#3d4753;letter-spacing:0.734px;left:2404.20px;">150-05-</span>
<svg class="b" style="left:1980.00px;top:1876.00px;" width="28" height="38" viewBox="0 0 28 38" fill="none"><path d="M20.5 5L5.5 18.5L20.5 32" stroke="#a9d6f7" stroke-width="3" stroke-linecap="round" stroke-linejoin="round"/></svg>
<div class="b" style="left:2041.50px;top:1859.00px;width:70.00px;height:70.00px;background:#dae5f2;border-radius:15px;"></div>
<span class="t" id="t100" style="top:1876.87px;font-size:35px;line-height:35px;color:#3d4753;font-weight:700;left:2066.50px;">1</span>
<span class="t" id="t101" style="top:1876.87px;font-size:35px;line-height:35px;color:#6b7b8c;-webkit-text-stroke:0.7px #6b7b8c;left:2150.00px;">2</span>
<span class="t" id="t102" style="top:1876.87px;font-size:35px;line-height:35px;color:#6b7b8c;-webkit-text-stroke:0.7px #6b7b8c;left:2233.00px;">3</span>
<span class="t" id="t103" style="top:1876.87px;font-size:35px;line-height:35px;color:#6b7b8c;-webkit-text-stroke:0.7px #6b7b8c;left:2316.00px;">4</span>
<span class="t" id="t104" style="top:1876.87px;font-size:35px;line-height:35px;color:#6b7b8c;-webkit-text-stroke:0.7px #6b7b8c;left:2399.00px;">5</span>
<span class="t" id="t105" style="top:1876.87px;font-size:35px;line-height:35px;color:#6b7b8c;-webkit-text-stroke:0.7px #6b7b8c;left:2477.78px;">...</span>
<span class="t" id="t106" style="top:1876.03px;font-size:36px;line-height:36px;color:#6b7b8c;-webkit-text-stroke:0.7px #6b7b8c;letter-spacing:0.812px;left:2552.00px;">1568</span>
<svg class="b" style="left:2682.00px;top:1876.00px;" width="28" height="38" viewBox="0 0 28 38" fill="none"><path d="M7 5L20.5 18.5L7 32" stroke="#0d9cf0" stroke-width="3" stroke-linecap="round" stroke-linejoin="round"/></svg>
<span class="t" id="t107" style="top:2005.19px;font-size:32.5px;line-height:32.5px;color:#1a1a1a;letter-spacing:0.252px;left:56.70px;">Historical Trend of</span>
<div class="b" style="left:354.00px;top:1981.00px;width:643.00px;height:78.00px;background:#fff;border:2px solid #d3e0ef;border-radius:16px;"></div>
<span class="t" id="t108" style="top:2005.19px;font-size:32.5px;line-height:32.5px;color:#14143c;letter-spacing:0.458px;left:383.50px;">% of Out-of-Sync rows</span>
<svg class="b" style="left:939.50px;top:2014.00px;" width="16" height="12" viewBox="0 0 16 12" fill="none"><path d="M0.5 1.5H15L7.75 10Z" fill="#6a6a6a" stroke="#6a6a6a" stroke-width="1" stroke-linejoin="round"/></svg>
<span class="t" id="t109" style="top:2019.55px;font-size:22.5px;line-height:22.5px;color:#6b7b8c;-webkit-text-stroke:0.3px #6b7b8c;letter-spacing:-0.144px;left:1710.70px;">MISMATCH TYPE</span>
<div class="b" style="left:1928.40px;top:2017.50px;width:24.00px;height:24.00px;background:#346bc2;border-radius:4.5px;"></div>
<span class="t" id="t110" style="top:2016.30px;font-size:28px;line-height:28px;color:#6b7b8c;letter-spacing:0.129px;left:1969.00px;">Content Mismatch</span>
<div class="b" style="left:2248.50px;top:2017.50px;width:24.00px;height:24.00px;background:#ed86b7;border-radius:4.5px;"></div>
<span class="t" id="t111" style="top:2016.30px;font-size:28px;line-height:28px;color:#6b7b8c;letter-spacing:-0.208px;left:2289.00px;">Extra at Source</span>
<div class="b" style="left:2531.50px;top:2017.50px;width:24.00px;height:24.00px;background:#4b468f;border-radius:4.5px;"></div>
<span class="t" id="t112" style="top:2016.30px;font-size:28px;line-height:28px;color:#6b7b8c;letter-spacing:0.050px;left:2572.00px;">Extra at Target</span>
<div class="b" style="left:158.40px;top:2786.00px;width:2574.60px;height:2.20px;background:repeating-linear-gradient(90deg,#d3e0f0 0 6.6px,transparent 6.6px 8.76px)"></div>
<div class="b" style="left:158.40px;top:2664.73px;width:2574.60px;height:2.20px;background:repeating-linear-gradient(90deg,#d3e0f0 0 6.6px,transparent 6.6px 8.76px)"></div>
<div class="b" style="left:158.40px;top:2543.46px;width:2574.60px;height:2.20px;background:repeating-linear-gradient(90deg,#d3e0f0 0 6.6px,transparent 6.6px 8.76px)"></div>
<div class="b" style="left:158.40px;top:2422.19px;width:2574.60px;height:2.20px;background:repeating-linear-gradient(90deg,#d3e0f0 0 6.6px,transparent 6.6px 8.76px)"></div>
<div class="b" style="left:158.40px;top:2300.92px;width:2574.60px;height:2.20px;background:repeating-linear-gradient(90deg,#d3e0f0 0 6.6px,transparent 6.6px 8.76px)"></div>
<div class="b" style="left:158.40px;top:2179.65px;width:2574.60px;height:2.20px;background:repeating-linear-gradient(90deg,#d3e0f0 0 6.6px,transparent 6.6px 8.76px)"></div>
<div class="b" style="left:158.00px;top:2906.40px;width:2575.00px;height:2.00px;background:#d4e1ef;"></div>
<span class="t" id="t113" style="top:2879.09px;font-size:26px;line-height:26px;color:#6b7b8c;letter-spacing:2.540px;left:84.50px;">0%</span>
<span class="t" id="t114" style="top:2759.19px;font-size:26px;line-height:26px;color:#6b7b8c;letter-spacing:-2.460px;left:89.50px;">1%</span>
<span class="t" id="t115" style="top:2637.92px;font-size:26px;line-height:26px;color:#6b7b8c;letter-spacing:2.540px;left:84.50px;">2%</span>
<span class="t" id="t116" style="top:2516.65px;font-size:26px;line-height:26px;color:#6b7b8c;letter-spacing:1.540px;left:85.50px;">3%</span>
<span class="t" id="t117" style="top:2395.38px;font-size:26px;line-height:26px;color:#6b7b8c;letter-spacing:1.540px;left:85.50px;">4%</span>
<span class="t" id="t118" style="top:2274.11px;font-size:26px;line-height:26px;color:#6b7b8c;letter-spacing:2.540px;left:84.50px;">5%</span>
<div class="b" style="left:408.25px;top:2847.50px;width:15.30px;height:58.80px;background:#346bc2;"></div>
<div class="b" style="left:408.25px;top:2729.75px;width:15.30px;height:115.25px;background:#ed86b7;"></div>
<div class="b" style="left:408.25px;top:2718.50px;width:15.30px;height:8.35px;background:#4b468f;border-radius:5.5px 5.5px 0 0;"></div>
<span class="t" id="t119" style="top:2942.71px;font-size:26.8px;line-height:26.8px;color:#6b7b8c;letter-spacing:0.909px;left:309.70px;">Dec 02, 9:04 AM</span>
<div class="b" style="left:924.25px;top:2847.50px;width:15.30px;height:58.80px;background:#346bc2;"></div>
<div class="b" style="left:924.25px;top:2731.80px;width:15.30px;height:113.20px;background:#ed86b7;"></div>
<div class="b" style="left:924.25px;top:2718.50px;width:15.30px;height:10.60px;background:#4b468f;border-radius:5.5px 5.5px 0 0;"></div>
<span class="t" id="t120" style="top:2942.71px;font-size:26.8px;line-height:26.8px;color:#6b7b8c;letter-spacing:0.481px;left:827.50px;">Dec 02, 1:43 PM</span>
<div class="b" style="left:1437.85px;top:2847.50px;width:15.30px;height:58.80px;background:#346bc2;"></div>
<div class="b" style="left:1437.85px;top:2731.20px;width:15.30px;height:113.80px;background:#ed86b7;border-radius:6px 6px 0 0;"></div>
<span class="t" id="t121" style="top:2942.71px;font-size:26.8px;line-height:26.8px;color:#6b7b8c;letter-spacing:0.767px;left:1340.20px;">Dec 02, 4:30 PM</span>
<div class="b" style="left:1951.85px;top:2692.20px;width:15.30px;height:214.10px;background:#346bc2;"></div>
<div class="b" style="left:1951.85px;top:2283.30px;width:15.30px;height:406.50px;background:#ed86b7;border-radius:6px 6px 0 0;"></div>
<span class="t" id="t122" style="top:2942.71px;font-size:26.8px;line-height:26.8px;color:#6b7b8c;letter-spacing:0.909px;left:1853.70px;">Dec 02, 4:40 PM</span>
<div class="b" style="left:2467.75px;top:2847.50px;width:15.30px;height:58.80px;background:#346bc2;"></div>
<div class="b" style="left:2467.75px;top:2731.80px;width:15.30px;height:113.20px;background:#ed86b7;"></div>
<div class="b" style="left:2467.75px;top:2718.50px;width:15.30px;height:10.60px;background:#4b468f;border-radius:5.5px 5.5px 0 0;"></div>
<span class="t" id="t123" style="top:2942.71px;font-size:26.8px;line-height:26.8px;color:#6b7b8c;letter-spacing:0.767px;left:2369.50px;">Dec 02, 5:09 PM</span>
<div class="b" style="left:415.60px;top:2225.00px;width:2.00px;height:620.80px;background:#7c8a99;"></div>
<div class="b" style="left:349.80px;top:2179.60px;width:133.20px;height:45.60px;background:#6e7f8f;border-radius:7px;"></div>
<span class="t" id="t124" style="top:2192.52px;font-size:22.3px;line-height:22.3px;color:#fff;letter-spacing:-0.355px;left:366.50px;">THIS RUN</span>
<div class="b" style="left:4.00px;top:3056.50px;width:2803.00px;height:2.00px;background:#dee3e9;"></div>
<span class="t" id="t125" style="top:3097.49px;font-size:32.5px;line-height:32.5px;color:#14143c;-webkit-text-stroke:0.6px #14143c;letter-spacing:0.061px;left:57.00px;">Run-Time Details</span>
<span class="t" id="t126" style="top:3097.49px;font-size:32.5px;line-height:32.5px;color:#6b7b8c;letter-spacing:-0.257px;left:2265.50px;">Wait Time For Revalidation</span>
<span class="t" id="t127" style="top:3097.49px;font-size:32.5px;line-height:32.5px;color:#3d4753;letter-spacing:-0.238px;left:2665.30px;">2m:3s</span>
<div class="b" style="left:59.00px;top:3191.00px;width:2695.00px;height:267.00px;background:#fff;border:2px solid #d3e0ef;border-radius:21px;overflow:hidden"><div class="b" style="left:0;top:0;width:2695px;height:89px;background:#f6f9fe"></div></div>
<div class="b" style="left:61.00px;top:3280.50px;width:2691.00px;height:2.00px;background:#d3dff0;"></div>
<div class="b" style="left:61.00px;top:3367.70px;width:2691.00px;height:2.00px;background:#d3dff0;"></div>
<span class="t" id="t128" style="top:3221.49px;font-size:32.5px;line-height:32.5px;color:#7d8ea0;-webkit-text-stroke:0.35px #7d8ea0;letter-spacing:-0.144px;left:109.50px;">Phase</span>
<span class="t" id="t129" style="top:3221.49px;font-size:32.5px;line-height:32.5px;color:#7d8ea0;-webkit-text-stroke:0.5px #7d8ea0;letter-spacing:0.549px;left:437.00px;">Started</span>
<span class="t" id="t130" style="top:3221.49px;font-size:32.5px;line-height:32.5px;color:#a9bbcf;-webkit-text-stroke:0.5px #a9bbcf;letter-spacing:0.563px;left:762.00px;">Completed</span>
<span class="t" id="t131" style="top:3221.49px;font-size:32.5px;line-height:32.5px;color:#7d8ea0;-webkit-text-stroke:0.5px #7d8ea0;letter-spacing:0.047px;left:1087.50px;">Result Type</span>
<span class="t" id="t132" style="top:3221.49px;font-size:32.5px;line-height:32.5px;color:#7d8ea0;-webkit-text-stroke:0.5px #7d8ea0;letter-spacing:0.347px;left:1411.40px;">In-Sync Reco...</span>
<span class="t" id="t133" style="top:3221.49px;font-size:32.5px;line-height:32.5px;color:#7d8ea0;-webkit-text-stroke:0.5px #7d8ea0;letter-spacing:0.644px;left:1739.30px;">Out-Of-Sync ...</span>
<div class="b" style="left:382.60px;top:3215.00px;width:3.80px;height:43.50px;background:#d4e0ee;"></div>
<div class="b" style="left:708.60px;top:3215.00px;width:3.80px;height:43.50px;background:#d4e0ee;"></div>
<div class="b" style="left:1034.10px;top:3215.00px;width:3.80px;height:43.50px;background:#d4e0ee;"></div>
<div class="b" style="left:1360.10px;top:3215.00px;width:3.80px;height:43.50px;background:#d4e0ee;"></div>
<div class="b" style="left:1685.60px;top:3215.00px;width:3.80px;height:43.50px;background:#d4e0ee;"></div>
<div class="b" style="left:2011.40px;top:3215.00px;width:3.80px;height:43.50px;background:#d4e0ee;"></div>
<div class="b" style="left:2255.80px;top:3215.00px;width:3.80px;height:43.50px;background:#d4e0ee;"></div>
<div class="b" style="left:2500.50px;top:3215.00px;width:3.80px;height:43.50px;background:#d4e0ee;"></div>
<div class="b" style="left:2745.10px;top:3215.00px;width:3.80px;height:43.50px;background:#d4e0ee;"></div>
<div class="b" style="left:2065.80px;top:3210.40px;width:52.20px;height:52.20px;background:#e0eaf7;border:2px solid #b9cdea;border-radius:11.5px;"></div>
<svg class="b" style="left:2065.80px;top:3210.40px;" width="52.2" height="52.2" viewBox="0 0 52.2 52.2" fill="none"><path d="M14.4 23.2H38.1M14.4 29.4H38.1M17.1 35.1L34.9 17.3" stroke="#2c66c3" stroke-width="2.9" stroke-linecap="round"/></svg>
<div class="b" style="left:2311.00px;top:3210.40px;width:52.20px;height:52.20px;background:#e8e7f6;border:2px solid #cad1f4;border-radius:11.5px;"></div>
<svg class="b" style="left:2311.00px;top:3210.40px;" width="52.2" height="52.2" viewBox="0 0 52.2 52.2" fill="none"><rect x="8.3" y="13.7" width="23.3" height="24" rx="9.6" stroke="#5548c8" stroke-width="2.3"/><path d="M17 20.1H23.8M20.4 20.1V31.3" stroke="#5548c8" stroke-width="2.3" stroke-linecap="round"/><path d="M35.9 26.4H45.5M40.7 21.6V31.2" stroke="#5548c8" stroke-width="2.3" stroke-linecap="round"/></svg>
<div class="b" style="left:2556.00px;top:3210.40px;width:52.20px;height:52.20px;background:#f7eafb;border:2px solid #efd5f5;border-radius:11.5px;"></div>
<svg class="b" style="left:2556.00px;top:3210.40px;" width="52.2" height="52.2" viewBox="0 0 52.2 52.2" fill="none"><rect x="8.3" y="13.7" width="23.3" height="24" rx="9.6" stroke="#ae44c6" stroke-width="2.3"/><path d="M23.1 22.1Q23.1 20.5 21.1 20.5H18.4Q16.4 20.5 16.4 22.4V24.3Q16.4 26.3 18.4 26.3H21.2Q23.1 26.3 23.1 28.3V30.3Q23.1 32.1 21.2 32.1H18.2Q16.2 32.1 16.2 30.5" stroke="#ae44c6" stroke-width="2.3" stroke-linecap="round" fill="none"/><path d="M35.9 26.4H45.5M40.7 21.6V31.2" stroke="#ae44c6" stroke-width="2.3" stroke-linecap="round"/></svg>
<span class="t" id="t134" style="top:3313.69px;font-size:32.5px;line-height:32.5px;color:#1f2430;letter-spacing:0.138px;left:113.50px;">Validation</span>
<span class="t" id="t135" style="top:3313.69px;font-size:32.5px;line-height:32.5px;color:#1f2430;letter-spacing:0.354px;left:437.50px;">Dec 02, 9:04...</span>
<span class="t" id="t136" style="top:3313.69px;font-size:32.5px;line-height:32.5px;color:#1f2430;letter-spacing:0.248px;left:763.40px;">Dec 02, 9:05 ...</span>
<span class="t" id="t137" style="top:3313.69px;font-size:32.5px;line-height:32.5px;color:#1f2430;letter-spacing:0.026px;left:1089.30px;">Provisional</span>
<span class="t" id="t138" style="top:3313.69px;font-size:32.5px;line-height:32.5px;color:#1f2430;letter-spacing:0.383px;left:1416.00px;">985,294</span>
<span class="t" id="t139" style="top:3313.69px;font-size:32.5px;line-height:32.5px;color:#1f2430;letter-spacing:-1.066px;left:1740.00px;">15,705</span>
<span class="t" id="t140" style="top:3313.69px;font-size:32.5px;line-height:32.5px;color:#1f2430;letter-spacing:-1.164px;left:2067.80px;">5,001</span>
<span class="t" id="t141" style="top:3313.69px;font-size:32.5px;line-height:32.5px;color:#1f2430;letter-spacing:-0.289px;left:2310.40px;">1,000</span>
<span class="t" id="t142" style="top:3313.69px;font-size:32.5px;line-height:32.5px;color:#1f2430;letter-spacing:-0.114px;left:2557.50px;">9,704</span>
<span class="t" id="t143" style="top:3401.09px;font-size:32.5px;line-height:32.5px;color:#1f2430;letter-spacing:-0.126px;left:111.50px;">Revalidation</span>
<span class="t" id="t144" style="top:3401.09px;font-size:32.5px;line-height:32.5px;color:#1f2430;letter-spacing:0.135px;left:437.50px;">Dec 02, 9:07 ...</span>
<span class="t" id="t145" style="top:3401.09px;font-size:32.5px;line-height:32.5px;color:#1f2430;letter-spacing:0.195px;left:763.40px;">Dec 02, 9:55 ...</span>
<span class="t" id="t146" style="top:3401.09px;font-size:32.5px;line-height:32.5px;color:#1f2430;letter-spacing:-0.356px;left:1089.30px;">Final</span>
<span class="t" id="t147" style="top:3401.09px;font-size:32.5px;line-height:32.5px;color:#1f2430;letter-spacing:0.549px;left:1416.00px;">985,320</span>
<span class="t" id="t148" style="top:3401.09px;font-size:32.5px;line-height:32.5px;color:#1f2430;letter-spacing:-0.866px;left:1740.00px;">15,679</span>
<span class="t" id="t149" style="top:3401.09px;font-size:32.5px;line-height:32.5px;color:#1f2430;letter-spacing:-1.164px;left:2067.80px;">5,001</span>
<span class="t" id="t150" style="top:3401.09px;font-size:32.5px;line-height:32.5px;color:#1f2430;letter-spacing:-0.289px;left:2310.40px;">1,000</span>
<span class="t" id="t151" style="top:3401.09px;font-size:32.5px;line-height:32.5px;color:#1f2430;letter-spacing:-0.089px;left:2557.50px;">9,678</span>
<span class="t" id="t152" style="top:3553.49px;font-size:32.5px;line-height:32.5px;color:#14143c;-webkit-text-stroke:0.6px #14143c;letter-spacing:0.089px;left:57.00px;">Records Read (Including Duplicates)</span>
<span class="t" id="t153" style="top:3553.49px;font-size:32.5px;line-height:32.5px;color:#6b7b8c;letter-spacing:-0.163px;left:2056.40px;">Duplicate Keys</span>
<span class="t" id="t154" style="top:3553.49px;font-size:32.5px;line-height:32.5px;color:#3d4753;letter-spacing:-0.266px;left:2287.80px;">10,000</span>
<div class="b" style="left:2424.00px;top:3557.30px;width:2.40px;height:27.00px;background:#3d4753;"></div>
<svg class="b" style="left:2458.00px;top:3555.40px;" width="28" height="28" viewBox="0 0 28 28" fill="none"><path d="M13.2 3.5V15.5M8 10.8L13.2 15.8L18.4 10.8M4.2 17.2V19.4Q4.2 22 6.8 22H19.6Q22.2 22 22.2 19.4V17.2" stroke="#0d9cf0" stroke-width="2.5" stroke-linecap="round" stroke-linejoin="round"/></svg>
<span class="t" id="t155" style="top:3555.24px;font-size:26.3px;line-height:26.3px;color:#0d9cf0;-webkit-text-stroke:0.3px #0d9cf0;letter-spacing:0.834px;left:2502.00px;">Download Details</span>
<svg class="b" style="left:59.50px;top:3611.00px;" width="33" height="33" viewBox="0 0 33 33" fill="none"><circle cx="16.5" cy="16.5" r="13.2" stroke="#66788a" stroke-width="2.6"/><circle cx="16.5" cy="10.4" r="1.8" fill="#66788a"/><path d="M16.5 15.2V23.6" stroke="#66788a" stroke-width="2.6" stroke-linecap="butt"/></svg>
<span class="t" id="t156" style="top:3615.07px;font-size:26.5px;line-height:26.5px;color:#7d8a98;letter-spacing:-0.181px;left:110.50px;">Does not include records with null values in any of the key columns selected for comparison for this Validation Pair.</span>
<div class="b" style="left:59.00px;top:3700.00px;width:2695.00px;height:266.00px;background:#fff;border:2px solid #d3e0ef;border-radius:21px;overflow:hidden"><div class="b" style="left:0;top:0;width:2695px;height:88px;background:#f6f9fe"></div></div>
<div class="b" style="left:61.00px;top:3788.80px;width:2691.00px;height:2.00px;background:#d3dff0;"></div>
<div class="b" style="left:61.00px;top:3877.00px;width:2691.00px;height:2.00px;background:#d3dff0;"></div>
<span class="t" id="t157" style="top:3729.99px;font-size:32.5px;line-height:32.5px;color:#7d8ea0;-webkit-text-stroke:0.5px #7d8ea0;letter-spacing:-0.260px;left:113.50px;">Table Name</span>
<span class="t" id="t158" style="top:3729.99px;font-size:32.5px;line-height:32.5px;color:#7d8ea0;-webkit-text-stroke:0.5px #7d8ea0;letter-spacing:0.263px;left:783.00px;">Non-Duplicate Records</span>
<span class="t" id="t159" style="top:3729.99px;font-size:32.5px;line-height:32.5px;color:#7d8ea0;-webkit-text-stroke:0.5px #7d8ea0;letter-spacing:0.169px;left:1455.70px;">Duplicate Records</span>
<span class="t" id="t160" style="top:3729.99px;font-size:32.5px;line-height:32.5px;color:#7d8ea0;-webkit-text-stroke:0.5px #7d8ea0;letter-spacing:0.013px;left:2132.00px;">Total Records</span>
<div class="b" style="left:730.60px;top:3724.00px;width:3.80px;height:43.50px;background:#d4e0ee;"></div>
<div class="b" style="left:1403.60px;top:3724.00px;width:3.80px;height:43.50px;background:#d4e0ee;"></div>
<div class="b" style="left:2076.60px;top:3724.00px;width:3.80px;height:43.50px;background:#d4e0ee;"></div>
<div class="b" style="left:2747.10px;top:3724.00px;width:3.80px;height:43.50px;background:#d4e0ee;"></div>
<svg class="b" style="left:127.40px;top:3819.00px;" width="37.3" height="23.4" viewBox="0 0 37.3 23.4" fill="none"><rect x="3.0" y="3.0" width="31.299999999999997" height="17.4" rx="8.7" stroke="#e21b23" stroke-width="6"/></svg>
<svg class="b" style="left:123.16px;top:3895.96px;" width="41.28" height="41.28" viewBox="0 0 41.28 41.28" fill="none"><path d="M6.71 20.64 A13.93 13.93 0 0 1 30.32 10.62" stroke="#ea4335" stroke-width="2.58"/><path d="M29.60 31.31 A13.93 13.93 0 0 1 6.71 20.64" stroke="#fbbc04" stroke-width="2.58"/><path d="M30.32 10.62 A13.93 13.93 0 0 1 29.60 31.31 L38.61 38.61" stroke="#4285f4" stroke-width="2.58" stroke-linecap="round"/><path d="M14.79 17.97V30.70" stroke="#34a853" stroke-width="2.58" stroke-linecap="round"/><path d="M20.64 14.28V32.77" stroke="#34a853" stroke-width="2.58" stroke-linecap="round"/><path d="M26.49 21.67V30.70" stroke="#34a853" stroke-width="2.58" stroke-linecap="round"/></svg>
<span class="t" id="t161" style="top:3818.11px;font-size:30px;line-height:30px;color:#3d4753;-webkit-text-stroke:0.75px #3d4753;letter-spacing:-0.647px;left:200.00px;">ORC_OOS_1TAB_1M_100COL.Empl</span>
<span class="t" id="t162" style="top:3905.51px;font-size:30px;line-height:30px;color:#3d4753;-webkit-text-stroke:0.75px #3d4753;letter-spacing:-1.006px;left:199.00px;">BQ_ORC_OOS_1TAB_1M_100COL.E</span>
<span class="t" id="t163" style="top:3821.89px;font-size:32.5px;line-height:32.5px;color:#1f2430;letter-spacing:0.849px;left:786.00px;">999,999</span>
<span class="t" id="t164" style="top:3821.89px;font-size:32.5px;line-height:32.5px;color:#1f2430;letter-spacing:-0.006px;left:1458.30px;">10,000</span>
<span class="t" id="t165" style="top:3821.89px;font-size:32.5px;line-height:32.5px;color:#1f2430;letter-spacing:0.086px;left:2131.80px;">1,009,999</span>
<span class="t" id="t166" style="top:3909.09px;font-size:32.5px;line-height:32.5px;color:#1f2430;letter-spacing:-1.167px;left:786.00px;">991,321</span>
<span class="t" id="t167" style="top:3909.09px;font-size:32.5px;line-height:32.5px;color:#1f2430;letter-spacing:0.994px;left:1459.30px;">20,000</span>
<span class="t" id="t168" style="top:3909.09px;font-size:32.5px;line-height:32.5px;color:#1f2430;letter-spacing:-2.000px;left:2131.80px;">1,011,321</span>
<div class="b" style="left:999.30px;top:3970.70px;width:434.70px;height:5.30px;background:#45458a;border-radius:5px 5px 0 0;"></div>
<div class="b" style="left:0.00px;top:3976.00px;width:2809.00px;height:2.00px;background:#000;"></div>
</body></html>
